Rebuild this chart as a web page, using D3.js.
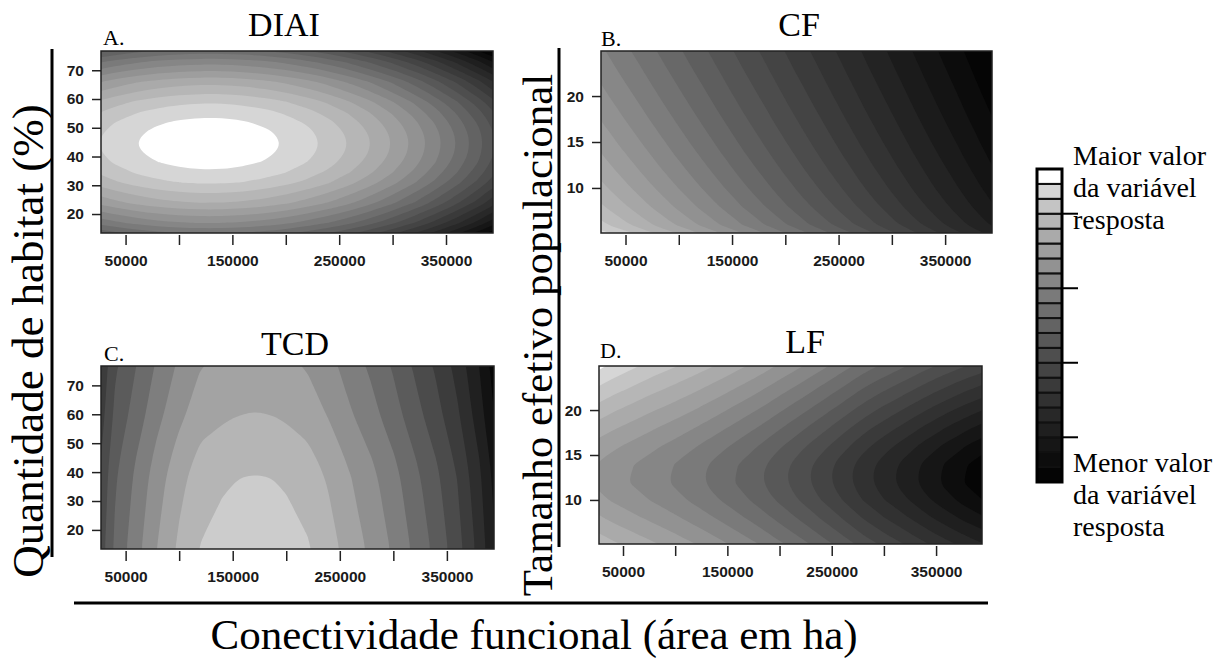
<!DOCTYPE html>
<html>
<head>
<meta charset="utf-8">
<script src="https://cdn.jsdelivr.net/npm/d3@7"></script>
<style>
  body { margin: 0; background: #fff; }
  svg { display: block; }
</style>
</head>
<body>
<svg id="chart" width="1220" height="658"></svg>
<script>
// Grid nodes of the response surfaces (in band units of each panel)
const xNodes = [0, 20000, 40000, 60000, 80000, 100000, 120000, 140000, 160000, 180000, 200000,
                220000, 240000, 260000, 280000, 300000, 320000, 340000, 360000, 380000, 400000];
const xNodesTCD = [0, 20000, 40000, 60000, 80000, 100000, 120000, 140000, 150000, 160000, 170000, 180000,
                   190000, 200000, 220000, 240000, 260000, 280000, 300000, 320000, 340000, 360000, 380000, 400000];
const yNodesDIAI = [10, 17, 24, 31, 34.5, 38, 41.5, 45, 48.5, 52, 55.5, 59, 66, 73, 80];
const yNodesTCD = [10, 17, 24, 31, 38, 45, 52, 59, 66, 73, 80];
const yNodesNe = [4, 6, 8, 10, 12, 14, 16, 18, 20, 22, 24, 26];

const xTicks = [50000, 100000, 150000, 200000, 250000, 300000, 350000];
const xTickLabels = [50000, 150000, 250000, 350000];
const yTicksHab = [20, 30, 40, 50, 60, 70];
const yTicksNe = [10, 15, 20];
const xDomain = [27000, 394000];
const habDomain = [13.4, 76.7];
const neDomain = [5.1, 24.9];

// number of bands between black and white in each panel
const bandsDIAI = 20, bandsCF = 23, bandsTCD = 13, bandsLF = 20;

const legendTicks = [3, 8, 13, 18];
const grays = [5, 13, 22, 31, 40, 49, 58, 68, 78, 88, 99, 110, 122, 134, 146, 158, 170, 182, 196, 214, 255];

// rows run from the lowest y node to the highest
const gridDIAI = [
  [7.55, 8.32, 8.96, 9.47, 9.85, 10.10, 10.22, 10.21, 10.06, 9.79, 9.38, 8.84, 8.18, 7.38, 6.45, 5.39, 4.20, 2.87, 1.42, -0.16, -1.88],
  [11.39, 12.16, 12.80, 13.31, 13.69, 13.94, 14.06, 14.05, 13.90, 13.63, 13.22, 12.68, 12.02, 11.22, 10.29, 9.23, 8.04, 6.71, 5.26, 3.68, 1.96],
  [14.35, 15.12, 15.76, 16.27, 16.65, 16.90, 17.02, 17.01, 16.86, 16.59, 16.18, 15.64, 14.98, 14.18, 13.25, 12.19, 11.00, 9.67, 8.22, 6.64, 4.92],
  [16.46, 17.23, 17.87, 18.38, 18.76, 19.01, 19.13, 19.12, 18.97, 18.70, 18.29, 17.75, 17.09, 16.29, 15.36, 14.30, 13.11, 11.78, 10.33, 8.75, 7.03],
  [17.18, 17.95, 18.59, 19.10, 19.48, 19.73, 19.85, 19.84, 19.69, 19.42, 19.01, 18.47, 17.81, 17.01, 16.08, 15.02, 13.83, 12.50, 11.05, 9.47, 7.75],
  [17.70, 18.47, 19.11, 19.62, 19.99, 20.25, 20.37, 20.36, 20.21, 19.94, 19.53, 18.99, 18.33, 17.53, 16.60, 15.54, 14.35, 13.02, 11.57, 9.99, 8.27],
  [17.99, 18.76, 19.40, 19.91, 20.29, 20.54, 20.66, 20.65, 20.50, 20.23, 19.82, 19.28, 18.62, 17.82, 16.89, 15.83, 14.64, 13.31, 11.86, 10.28, 8.56],
  [18.07, 18.84, 19.48, 19.99, 20.37, 20.62, 20.74, 20.73, 20.58, 20.31, 19.90, 19.36, 18.70, 17.90, 16.97, 15.91, 14.72, 13.39, 11.94, 10.36, 8.64],
  [17.93, 18.70, 19.34, 19.85, 20.23, 20.48, 20.60, 20.59, 20.44, 20.17, 19.76, 19.22, 18.56, 17.76, 16.83, 15.77, 14.58, 13.25, 11.80, 10.22, 8.50],
  [17.57, 18.34, 18.98, 19.49, 19.87, 20.12, 20.24, 20.23, 20.08, 19.81, 19.40, 18.86, 18.20, 17.40, 16.47, 15.41, 14.22, 12.89, 11.44, 9.86, 8.14],
  [17.00, 17.77, 18.41, 18.92, 19.30, 19.55, 19.67, 19.66, 19.51, 19.24, 18.83, 18.29, 17.63, 16.83, 15.90, 14.84, 13.65, 12.32, 10.87, 9.29, 7.57],
  [16.21, 16.98, 17.62, 18.13, 18.51, 18.76, 18.88, 18.87, 18.72, 18.45, 18.04, 17.50, 16.84, 16.04, 15.11, 14.05, 12.86, 11.53, 10.08, 8.50, 6.78],
  [13.98, 14.75, 15.39, 15.90, 16.28, 16.53, 16.65, 16.64, 16.49, 16.22, 15.81, 15.27, 14.61, 13.81, 12.88, 11.82, 10.63, 9.30, 7.85, 6.27, 4.55],
  [10.89, 11.66, 12.30, 12.81, 13.19, 13.44, 13.56, 13.55, 13.40, 13.13, 12.72, 12.18, 11.52, 10.72, 9.79, 8.73, 7.54, 6.21, 4.76, 3.18, 1.46],
  [6.93, 7.70, 8.34, 8.85, 9.23, 9.48, 9.60, 9.59, 9.44, 9.17, 8.76, 8.22, 7.56, 6.76, 5.83, 4.77, 3.58, 2.25, 0.80, -0.78, -2.50]
];

const gridCF = [
  [25.16, 24.16, 23.15, 22.17, 21.16, 20.16, 19.17, 18.17, 17.17, 16.18, 15.17, 14.18, 13.18, 12.18, 11.18, 10.19, 9.19, 8.19, 7.20, 6.20, 5.20],
  [22.58, 21.63, 20.67, 19.73, 18.77, 17.83, 16.88, 15.93, 14.97, 14.03, 13.07, 12.13, 11.18, 10.23, 9.27, 8.33, 7.37, 6.43, 5.49, 4.53, 3.58],
  [21.39, 20.47, 19.53, 18.61, 17.68, 16.75, 15.83, 14.90, 13.96, 13.05, 12.11, 11.18, 10.26, 9.33, 8.39, 7.48, 6.54, 5.62, 4.70, 3.76, 2.84],
  [20.53, 19.61, 18.69, 17.79, 16.88, 15.97, 15.06, 14.14, 13.22, 12.32, 11.40, 10.49, 9.58, 8.67, 7.75, 6.85, 5.93, 5.02, 4.12, 3.20, 2.29],
  [19.79, 18.89, 17.99, 17.10, 16.20, 15.30, 14.40, 13.51, 12.60, 11.71, 10.81, 9.91, 9.01, 8.12, 7.21, 6.32, 5.42, 4.52, 3.64, 2.73, 1.83],
  [19.14, 18.25, 17.36, 16.48, 15.59, 14.71, 13.82, 12.94, 12.05, 11.17, 10.28, 9.39, 8.51, 7.62, 6.73, 5.85, 4.96, 4.08, 3.20, 2.31, 1.42],
  [18.55, 17.68, 16.79, 15.93, 15.05, 14.17, 13.30, 12.43, 11.54, 10.68, 9.80, 8.92, 8.05, 7.17, 6.29, 5.43, 4.54, 3.67, 2.81, 1.93, 1.05],
  [17.99, 17.13, 16.26, 15.40, 14.54, 13.67, 12.81, 11.94, 11.07, 10.22, 9.34, 8.48, 7.62, 6.75, 5.88, 5.03, 4.15, 3.29, 2.44, 1.57, 0.70],
  [17.47, 16.62, 15.76, 14.91, 14.05, 13.20, 12.35, 11.49, 10.63, 9.79, 8.92, 8.07, 7.21, 6.36, 5.50, 4.65, 3.79, 2.94, 2.10, 1.23, 0.38],
  [16.98, 16.13, 15.28, 14.44, 13.60, 12.75, 11.91, 11.06, 10.21, 9.37, 8.52, 7.67, 6.83, 5.98, 5.13, 4.29, 3.44, 2.60, 1.77, 0.91, 0.07],
  [16.51, 15.67, 14.83, 14.00, 13.16, 12.32, 11.49, 10.65, 9.81, 8.98, 8.13, 7.30, 6.46, 5.63, 4.78, 3.95, 3.11, 2.28, 1.45, 0.61, -0.23],
  [16.06, 15.23, 14.39, 13.58, 12.75, 11.92, 11.09, 10.26, 9.42, 8.61, 7.77, 6.94, 6.11, 5.29, 4.45, 3.63, 2.79, 1.97, 1.15, 0.32, -0.51]
];

const gridTCD = [
  [2.24, 4.65, 7.25, 8.71, 10.12, 11.27, 12.12, 12.48, 12.59, 12.65, 12.68, 12.66, 12.61, 12.51, 12.18, 11.47, 10.62, 9.82, 8.92, 7.85, 6.77, 5.46, 3.71, 1.55],
  [2.16, 4.55, 7.15, 8.59, 9.98, 11.13, 11.97, 12.32, 12.43, 12.49, 12.52, 12.50, 12.45, 12.35, 12.02, 11.32, 10.48, 9.68, 8.78, 7.71, 6.63, 5.34, 3.59, 1.44],
  [2.07, 4.46, 7.05, 8.47, 9.85, 10.98, 11.82, 12.16, 12.27, 12.33, 12.36, 12.34, 12.29, 12.19, 11.86, 11.17, 10.33, 9.53, 8.63, 7.57, 6.50, 5.21, 3.47, 1.33],
  [1.98, 4.37, 6.95, 8.35, 9.71, 10.83, 11.67, 12.00, 12.11, 12.17, 12.20, 12.18, 12.13, 12.03, 11.70, 11.02, 10.18, 9.39, 8.49, 7.43, 6.36, 5.08, 3.35, 1.22],
  [1.89, 4.28, 6.86, 8.23, 9.58, 10.69, 11.52, 11.84, 11.95, 12.01, 12.04, 12.02, 11.97, 11.87, 11.54, 10.87, 10.04, 9.25, 8.35, 7.29, 6.23, 4.96, 3.23, 1.11],
  [1.74, 4.11, 6.68, 8.02, 9.33, 10.42, 11.25, 11.56, 11.67, 11.73, 11.76, 11.74, 11.69, 11.59, 11.26, 10.60, 9.77, 8.99, 8.09, 7.04, 5.98, 4.72, 3.02, 0.91],
  [1.55, 3.91, 6.47, 7.76, 9.04, 10.11, 10.92, 11.22, 11.33, 11.39, 11.42, 11.40, 11.35, 11.25, 10.92, 10.27, 9.46, 8.68, 7.78, 6.74, 5.69, 4.45, 2.76, 0.67],
  [1.36, 3.71, 6.25, 7.50, 8.75, 9.79, 10.60, 10.87, 10.98, 11.04, 11.07, 11.05, 11.00, 10.90, 10.57, 9.95, 9.14, 8.37, 7.47, 6.43, 5.40, 4.18, 2.50, 0.43],
  [1.21, 3.56, 6.08, 7.30, 8.52, 9.54, 10.34, 10.60, 10.71, 10.77, 10.80, 10.78, 10.73, 10.63, 10.30, 9.69, 8.89, 8.13, 7.23, 6.20, 5.17, 3.96, 2.30, 0.24],
  [1.07, 3.41, 5.92, 7.11, 8.30, 9.31, 10.09, 10.34, 10.45, 10.51, 10.54, 10.52, 10.47, 10.37, 10.04, 9.44, 8.66, 7.90, 7.00, 5.97, 4.95, 3.75, 2.11, 0.06],
  [0.92, 3.25, 5.76, 6.91, 8.08, 9.07, 9.85, 10.08, 10.19, 10.25, 10.28, 10.26, 10.21, 10.11, 9.78, 9.20, 8.42, 7.66, 6.76, 5.74, 4.73, 3.54, 1.91, -0.12]
];

const gridLF = [
  [19.06, 18.44, 17.77, 17.21, 16.65, 16.13, 15.56, 14.94, 14.27, 13.58, 12.79, 11.98, 11.13, 10.22, 9.26, 8.43, 7.65, 6.83, 6.05, 5.32, 4.69],
  [17.95, 17.37, 16.73, 16.19, 15.65, 15.12, 14.54, 13.91, 13.23, 12.52, 11.72, 10.88, 9.99, 9.06, 8.07, 7.21, 6.39, 5.53, 4.71, 3.95, 3.28],
  [16.90, 16.35, 15.75, 15.22, 14.70, 14.16, 13.57, 12.93, 12.25, 11.52, 10.70, 9.83, 8.92, 7.96, 6.94, 6.04, 5.19, 4.29, 3.44, 2.64, 1.94],
  [15.98, 15.46, 14.89, 14.38, 13.87, 13.33, 12.73, 12.09, 11.39, 10.65, 9.81, 8.93, 7.99, 7.01, 5.97, 5.04, 4.16, 3.23, 2.35, 1.52, 0.79],
  [15.44, 14.93, 14.38, 13.88, 13.38, 12.83, 12.23, 11.58, 10.88, 10.13, 9.28, 8.39, 7.44, 6.44, 5.39, 4.44, 3.54, 2.59, 1.69, 0.84, 0.10],
  [15.59, 15.08, 14.52, 14.02, 13.52, 12.97, 12.37, 11.72, 11.02, 10.28, 9.43, 8.54, 7.59, 6.59, 5.55, 4.61, 3.71, 2.77, 1.87, 1.03, 0.29],
  [16.32, 15.79, 15.21, 14.69, 14.18, 13.64, 13.04, 12.40, 11.71, 10.97, 10.14, 9.26, 8.34, 7.36, 6.33, 5.41, 4.54, 3.62, 2.75, 1.94, 1.22],
  [17.31, 16.74, 16.13, 15.60, 15.07, 14.53, 13.95, 13.31, 12.63, 11.91, 11.09, 10.24, 9.34, 8.39, 7.38, 6.50, 5.66, 4.77, 3.94, 3.15, 2.46],
  [18.39, 17.79, 17.14, 16.59, 16.04, 15.52, 14.94, 14.32, 13.64, 12.94, 12.14, 11.32, 10.44, 9.52, 8.54, 7.69, 6.89, 6.04, 5.24, 4.49, 3.84],
  [19.52, 18.88, 18.20, 17.63, 17.06, 16.54, 15.98, 15.36, 14.70, 14.01, 13.23, 12.44, 11.59, 10.69, 9.74, 8.93, 8.17, 7.36, 6.59, 5.88, 5.27],
  [20.67, 20.00, 19.27, 18.68, 18.10, 17.59, 17.03, 16.43, 15.77, 15.11, 14.35, 13.58, 12.76, 11.89, 10.97, 10.20, 9.48, 8.70, 7.98, 7.30, 6.73],
  [21.84, 21.12, 20.36, 19.75, 19.15, 18.65, 18.10, 17.51, 16.86, 16.22, 15.47, 14.74, 13.95, 13.11, 12.22, 11.48, 10.80, 10.06, 9.38, 8.74, 8.21]
];

const serif = '"Liberation Serif", "Times New Roman", Times, serif';
const sans = '"Liberation Sans", Arial, Helvetica, sans-serif';

// shared gray ramp (0 = black end, 1 = white end), taken from the key
const grayAt = d3.scaleLinear().domain(d3.range(21).map(i => i / 20)).range(grays).clamp(true);
const grayFill = t => { const g = Math.round(grayAt(t)); return d3.rgb(g, g, g).toString(); };

const svg = d3.select('#chart');
const defs = svg.append('defs');

// box = [left, top, right, bottom] of each plot region
const panels = [
  { key: 'A', title: 'DIAI', letter: 'A.', grid: gridDIAI, bands: bandsDIAI, xNodes: xNodes, yNodes: yNodesDIAI,
    yDomain: habDomain, yTicks: yTicksHab, box: [101, 51, 493, 233], titleAt: [284, 36], letterAt: [103, 45] },
  { key: 'B', title: 'CF', letter: 'B.', grid: gridCF, bands: bandsCF, xNodes: xNodes, yNodes: yNodesNe,
    yDomain: neDomain, yTicks: yTicksNe, box: [601, 51, 992, 233], titleAt: [799, 36], letterAt: [601, 46] },
  { key: 'C', title: 'TCD', letter: 'C.', grid: gridTCD, bands: bandsTCD, xNodes: xNodesTCD, yNodes: yNodesTCD,
    yDomain: habDomain, yTicks: yTicksHab, box: [101, 366, 494, 549], titleAt: [295, 355], letterAt: [104, 361] },
  { key: 'D', title: 'LF', letter: 'D.', grid: gridLF, bands: bandsLF, xNodes: xNodes, yNodes: yNodesNe,
    yDomain: neDomain, yTicks: yTicksNe, box: [599, 366, 982, 544], titleAt: [805, 353], letterAt: [600, 358] }
];

function drawPanel(p) {
  const [x0, y0, x1, y1] = p.box;
  const x = d3.scaleLinear().domain(xDomain).range([x0, x1]);
  const y = d3.scaleLinear().domain(p.yDomain).range([y1, y0]);

  const nx = p.xNodes.length, ny = p.yNodes.length;
  // grid space -> data space (d3.contours puts sample i at i + 0.5)
  const gx = d3.scaleLinear().domain(p.xNodes.map((_, i) => i + 0.5)).range(p.xNodes);
  const gy = d3.scaleLinear().domain(p.yNodes.map((_, j) => j + 0.5)).range(p.yNodes);

  const contours = d3.contours()
    .size([nx, ny])
    .thresholds(d3.range(1, p.bands + 1))(p.grid.flat());

  defs.append('clipPath').attr('id', 'clip' + p.key)
    .append('rect').attr('x', x0).attr('y', y0).attr('width', x1 - x0).attr('height', y1 - y0);

  const g = svg.append('g').attr('clip-path', `url(#clip${p.key})`);
  g.append('rect')
    .attr('x', x0).attr('y', y0).attr('width', x1 - x0).attr('height', y1 - y0)
    .attr('fill', grayFill(0));

  const line = d3.line().curve(d3.curveBasisClosed);
  g.selectAll('path.band')
    .data(contours)
    .join('path')
    .attr('class', 'band')
    .attr('fill-rule', 'evenodd')
    .attr('fill', c => grayFill(c.value / p.bands))
    .attr('d', c => c.coordinates.map(poly => poly.map(ring =>
      line(ring.slice(0, -1).map(([a, b]) => [x(gx(a)), y(gy(b))]))
    ).join('')).join(''));

  // frame
  svg.append('rect')
    .attr('x', x0).attr('y', y0).attr('width', x1 - x0).attr('height', y1 - y0)
    .attr('fill', 'none').attr('stroke', '#222').attr('stroke-width', 1.5);

  // axes
  const ya = svg.append('g').attr('transform', `translate(${x0},0)`)
    .call(d3.axisLeft(y).tickValues(p.yTicks).tickSize(9).tickPadding(8));
  const xa = svg.append('g').attr('transform', `translate(0,${y1 + 2})`)
    .call(d3.axisBottom(x).tickValues(xTicks).tickSize(10).tickPadding(10)
      .tickFormat(d => xTickLabels.includes(d) ? d : ''));
  [ya, xa].forEach(a => {
    a.select('.domain').remove();
    a.selectAll('line').attr('stroke', '#222').attr('stroke-width', 1.5);
    a.selectAll('text').attr('fill', '#1a1a1a')
      .style('font-family', sans).style('font-weight', 'bold').style('font-size', '15.5px');
  });

  svg.append('text')
    .attr('x', p.titleAt[0]).attr('y', p.titleAt[1])
    .attr('text-anchor', 'middle')
    .style('font-family', serif).style('font-size', '34px')
    .text(p.title);
  svg.append('text')
    .attr('x', p.letterAt[0]).attr('y', p.letterAt[1])
    .style('font-family', serif).style('font-size', '22px')
    .text(p.letter);
}

panels.forEach(drawPanel);

// shared axis titles and bracket lines
svg.append('line').attr('x1', 52).attr('x2', 52).attr('y1', 49).attr('y2', 557)
  .attr('stroke', '#000').attr('stroke-width', 3);
svg.append('line').attr('x1', 559).attr('x2', 559).attr('y1', 48).attr('y2', 547)
  .attr('stroke', '#000').attr('stroke-width', 3);
svg.append('line').attr('x1', 74).attr('x2', 988).attr('y1', 603).attr('y2', 603)
  .attr('stroke', '#000').attr('stroke-width', 3);

svg.append('text')
  .attr('transform', 'translate(43,341) rotate(-90)')
  .attr('text-anchor', 'middle')
  .style('font-family', serif).style('font-size', '45px')
  .text('Quantidade de habitat (%)');
svg.append('text')
  .attr('transform', 'translate(552,335) rotate(-90)')
  .attr('text-anchor', 'middle')
  .style('font-family', serif).style('font-size', '43px')
  .text('Tamanho efetivo populacional');
svg.append('text')
  .attr('x', 534).attr('y', 649)
  .attr('text-anchor', 'middle')
  .style('font-family', serif).style('font-size', '43px')
  .text('Conectividade funcional (área em ha)');

// legend key
const legendY = d3.scaleLinear().domain([0, 21]).range([482, 169]);
const key = svg.append('g');
key.selectAll('rect.cell')
  .data(d3.range(21))
  .join('rect')
  .attr('class', 'cell')
  .attr('x', 1037).attr('width', 25)
  .attr('y', k => legendY(k + 1)).attr('height', k => legendY(k) - legendY(k + 1))
  .attr('fill', k => d3.rgb(grays[k], grays[k], grays[k]))
  .attr('stroke', '#111').attr('stroke-width', 2);
key.append('rect')
  .attr('x', 1037).attr('y', legendY(21)).attr('width', 25).attr('height', legendY(0) - legendY(21))
  .attr('fill', 'none').attr('stroke', '#000').attr('stroke-width', 3);
key.selectAll('line.tk')
  .data(legendTicks)
  .join('line')
  .attr('class', 'tk')
  .attr('x1', 1062).attr('x2', 1078)
  .attr('y1', d => legendY(d)).attr('y2', d => legendY(d))
  .attr('stroke', '#000').attr('stroke-width', 2);

const keyTop = ['Maior valor', 'da variável', 'resposta'];
const keyBottom = ['Menor valor', 'da variável', 'resposta'];
const keyText = (lines, y0) => lines.forEach((t, i) => {
  svg.append('text')
    .attr('x', 1073).attr('y', y0 + i * 32)
    .style('font-family', serif).style('font-size', '28px')
    .text(t);
});
keyText(keyTop, 165);
keyText(keyBottom, 472);
</script>
</body>
</html>
